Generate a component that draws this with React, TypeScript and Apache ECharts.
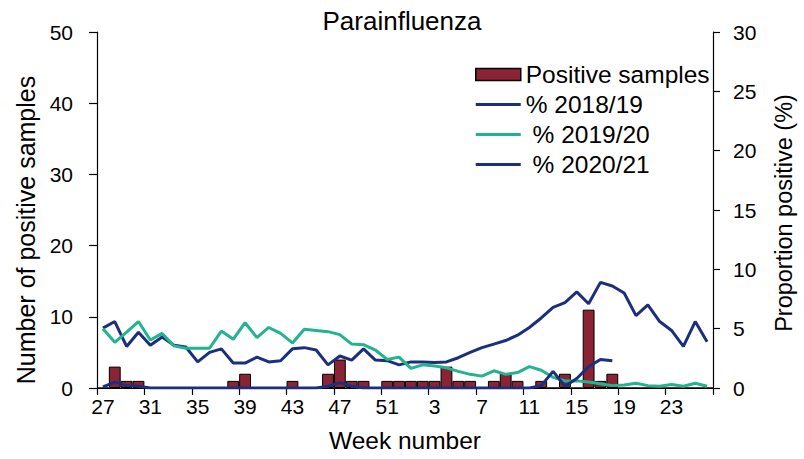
import React, { useEffect, useRef } from "react";
import * as echarts from "echarts";

const weekLabels = [
  "27","28","29","30","31","32","33","34","35","36","37","38","39","40","41","42","43","44","45","46","47","48","49","50","51","52",
  "1","2","3","4","5","6","7","8","9","10","11","12","13","14","15","16","17","18","19","20","21","22","23","24","25","26",
];

const positiveSamples = [
  0, 3, 1, 1, 0, 0, 0, 0, 0, 0, 0, 1, 2, 0, 0, 0, 1, 0, 0, 2, 4, 1, 1, 0, 1, 1,
  1, 1, 1, 3, 1, 1, 0, 1, 2, 1, 0, 1, 0, 2, 0, 11, 1, 2, 0, 0, 0, 0, 0, 0, 0, 0,
];

const pct2018 = [
  5.05, 5.6, 3.5, 4.7, 3.6, 4.3, 3.6, 3.45, 2.2, 3.0, 3.3, 2.1, 2.1, 2.6, 2.2, 2.3, 3.3, 3.4, 3.2, 1.95,
  2.7, 2.35, 3.3, 2.35, 2.3, 1.95, 2.2, 2.2, 2.15, 2.2, 2.55, 3.0, 3.4, 3.7, 4.0, 4.45, 5.1, 5.9, 6.8, 7.2,
  8.1, 7.1, 8.9, 8.6, 8.0, 6.1, 7.0, 5.6, 4.85, 3.5, 5.6, 3.9,
];

const pct2019 = [
  5.0, 3.85, 4.7, 5.6, 4.05, 4.6, 3.55, 3.35, 3.35, 3.35, 4.8, 4.1, 5.5, 4.25, 5.1, 4.6, 3.8, 4.95, 4.85, 4.75,
  4.5, 3.7, 3.65, 3.2, 2.4, 2.6, 1.65, 1.95, 1.85, 1.7, 1.4, 1.15, 1.0, 1.45, 1.15, 1.3, 1.8, 1.5, 0.9, 0.6,
  0.6, 0.5, 0.35, 0.2, 0.25, 0.4, 0.2, 0.15, 0.3, 0.15, 0.4, 0.15,
];

const pct2020: (number | null)[] = [
  0.1, 0.5, 0.2, 0.15, 0, 0, 0, 0, 0, 0, 0, 0, 0, 0, 0, 0, 0, 0, 0, 0.15,
  0.45, 0.15, 0, 0, 0, 0, 0, 0, 0, 0, 0, 0, 0, 0, 0, 0, 0, 0.2, 1.4, 0.15,
  0.8, 1.8, 2.4, 2.3, null, null, null, null, null, null, null, null,
];

const leftTicks = { min: 0, max: 50, interval: 10 };
const rightTicks = { min: 0, max: 30, interval: 5 };

const FONT = "'Liberation Sans', Arial, sans-serif";
const NAVY = "#1c2f7e";
const TEAL = "#22b38f";
const MAROON = "#8a2333";
const LINE_ICON = "path://M0,0 H45 V2.8 H0 Z";

export default function App() {
  const ref = useRef<HTMLDivElement>(null);
  useEffect(() => {
    document.body.style.margin = "0";
    const chart = echarts.init(ref.current!, null, { renderer: "svg" });
    chart.setOption({
      animation: false,
      textStyle: { fontFamily: FONT, color: "#000" },
      title: {
        text: "Parainfluenza",
        left: "center",
        top: 3,
        textStyle: { fontSize: 26, fontWeight: "normal", color: "#000", fontFamily: FONT },
      },
      legend: {
        orient: "vertical",
        left: 470,
        top: 57,
        itemWidth: 45,
        itemHeight: 12,
        itemGap: 5,
        symbolKeepAspect: true,
        textStyle: { fontSize: 24.5, color: "#000", fontFamily: FONT, lineHeight: 24 },
        data: [
          { name: "Positive samples", icon: "rect", itemStyle: { color: MAROON, borderColor: "#000", borderWidth: 1.5 } },
          { name: "% 2018/19", icon: LINE_ICON, itemStyle: { color: NAVY, borderWidth: 0 } },
          { name: "\u00a0% 2019/20", icon: LINE_ICON, itemStyle: { color: TEAL, borderWidth: 0 } },
          { name: "\u00a0% 2020/21", icon: LINE_ICON, itemStyle: { color: NAVY, borderWidth: 0 } },
        ],
      },
      grid: { left: 97, right: 84, top: 32, bottom: 71, containLabel: false },
      xAxis: {
        type: "category",
        data: weekLabels,
        boundaryGap: true,
        name: "Week number",
        nameLocation: "middle",
        nameGap: 40,
        nameTextStyle: { fontSize: 24.5, color: "#000", fontFamily: FONT },
        axisLine: { lineStyle: { color: "#000", width: 1.2 } },
        axisTick: { show: true, interval: 3, length: 7, lineStyle: { color: "#000", width: 1.2 } },
        axisLabel: { interval: 3, fontSize: 21, color: "#000", margin: 8, fontFamily: FONT },
        splitLine: { show: false },
      },
      yAxis: [
        {
          type: "value",
          ...leftTicks,
          name: "Number of positive samples",
          nameLocation: "middle",
          nameGap: 51,
          nameRotate: 90,
          nameTextStyle: { fontSize: 25, color: "#000", fontFamily: FONT, padding: [0, 40, 0, 0] },
          axisLine: { show: true, lineStyle: { color: "#000", width: 1.2 } },
          axisTick: { show: true, length: 8, lineStyle: { color: "#000", width: 1.2 } },
          axisLabel: { fontSize: 21, color: "#000", margin: 24, fontFamily: FONT },
          splitLine: { show: false },
        },
        {
          type: "value",
          ...rightTicks,
          position: "right",
          name: "Proportion positive (%)",
          nameLocation: "middle",
          nameGap: 59,
          nameRotate: 90,
          nameTextStyle: { fontSize: 23.5, color: "#000", fontFamily: FONT, padding: [0, 6, 0, 0] },
          axisLine: { show: true, lineStyle: { color: "#000", width: 1.2 } },
          axisTick: { show: true, length: 7, lineStyle: { color: "#000", width: 1.2 } },
          axisLabel: { fontSize: 21, color: "#000", margin: 20, fontFamily: FONT },
          splitLine: { show: false },
        },
      ],
      series: [
        {
          name: "Positive samples",
          type: "bar",
          yAxisIndex: 0,
          data: positiveSamples,
          barCategoryGap: "0%",
          itemStyle: { color: MAROON, borderColor: "#000", borderWidth: 1 },
        },
        {
          name: "% 2018/19",
          type: "line",
          yAxisIndex: 1,
          data: pct2018,
          symbol: "none",
          lineStyle: { color: NAVY, width: 3 },
          itemStyle: { color: NAVY },
        },
        {
          name: "\u00a0% 2019/20",
          type: "line",
          yAxisIndex: 1,
          data: pct2019,
          symbol: "none",
          lineStyle: { color: TEAL, width: 3 },
          itemStyle: { color: TEAL },
        },
        {
          name: "\u00a0% 2020/21",
          type: "line",
          yAxisIndex: 1,
          data: pct2020,
          symbol: "none",
          lineStyle: { color: NAVY, width: 3 },
          itemStyle: { color: NAVY },
        },
      ],
    });
    return () => chart.dispose();
  }, []);
  return <div ref={ref} style={{ width: 804, height: 459 }} />;
}
